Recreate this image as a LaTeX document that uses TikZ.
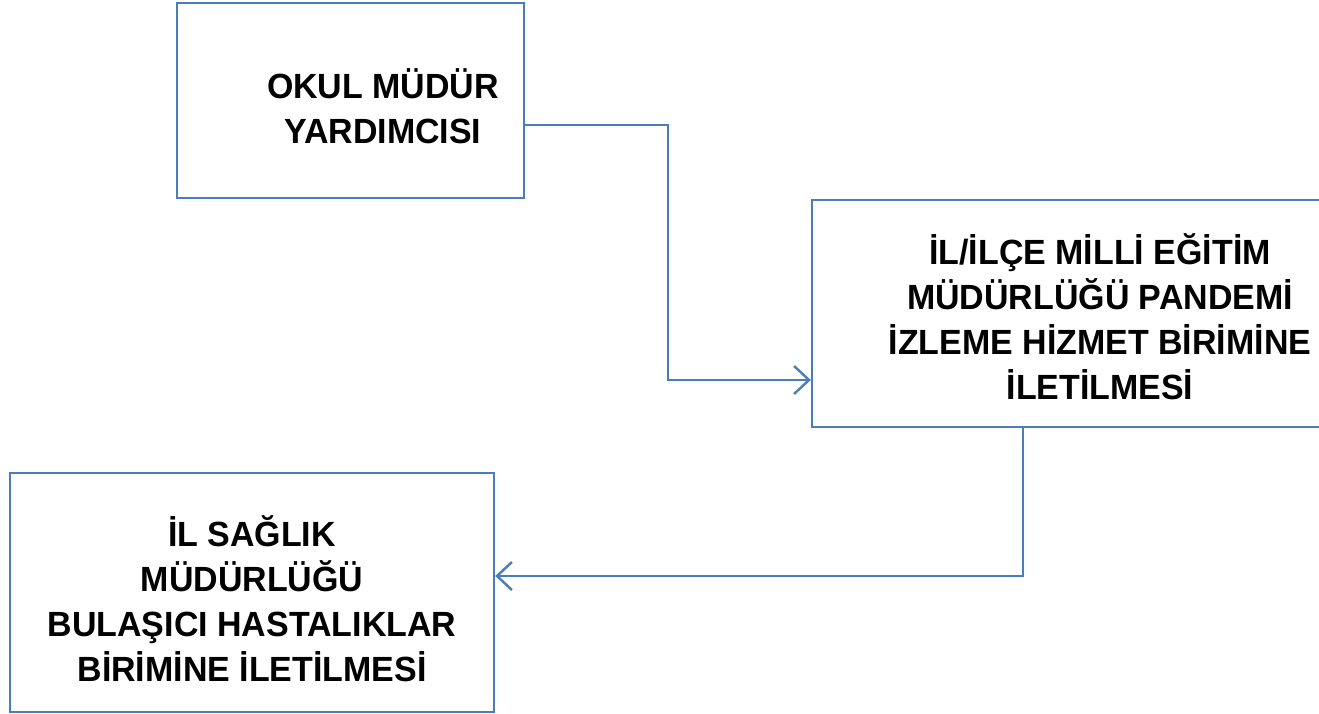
\documentclass[tikz,border=0pt]{standalone}
\usepackage{fontspec}
\setmainfont[FakeStretch=0.97]{Liberation Sans}
\usetikzlibrary{arrows.meta}

\begin{document}
\begin{tikzpicture}[x=1pt, y=-1pt,
    box/.style={draw=boxblue, line width=2.4pt, minimum width=#1, inner sep=0pt},
    txt/.style={align=center, font=\fontsize{35}{45}\selectfont\bfseries},
    link/.style={draw=boxblue, line width=2.4pt, -{Straight Barb[length=15pt, width=28pt, line width=2.4pt]}}]
\definecolor{boxblue}{HTML}{4A7EBB}
\useasboundingbox (0,0) rectangle (1319,714);
% boxes
\node[box=347pt, minimum height=195pt] (mudur) at (350.5,100.5) {};
\node[box=518pt, minimum height=227pt] (ilce) at (1071,313.5) {};
\node[box=484pt, minimum height=239pt] (saglik) at (252,592.5) {};
% texts
\node[txt] (mudurtxt) at (383,106) {OKUL MÜDÜR\\YARDIMCISI};
\node[txt] (ilcetxt) at (1100,317) {İL/İLÇE MİLLİ EĞİTİM\\MÜDÜRLÜĞÜ PANDEMİ\\İZLEME HİZMET BİRİMİNE\\İLETİLMESİ};
\node[txt] (sagliktxt) at (252,599) {İL SAĞLIK\\MÜDÜRLÜĞÜ\\BULAŞICI HASTALIKLAR\\BİRİMİNE İLETİLMESİ};
% connectors
\coordinate (a1) at ([yshift=-24.5pt]mudur.east);
\coordinate (a2) at ([yshift=-66.5pt]ilce.west);
\draw[link] (a1) -- (668,125) |- (a2);
\coordinate (b1) at (ilce.south -| 1023,0);
\coordinate (b2) at ([yshift=16.5pt]saglik.east);
\draw[link] (b1) |- (b2);
\end{tikzpicture}
\end{document}
